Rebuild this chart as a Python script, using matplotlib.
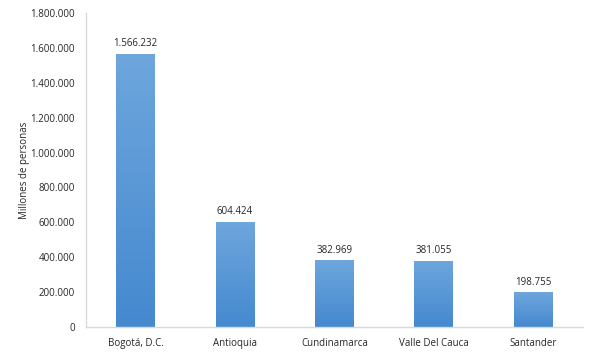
import matplotlib
matplotlib.use("Agg")
import matplotlib.pyplot as plt
import numpy as np
from matplotlib.colors import LinearSegmentedColormap

departamentos = ["Bogotá, D.C.", "Antioquia", "Cundinamarca", "Valle Del Cauca", "Santander"]
personas = [1566232, 604424, 382969, 381055, 198755]
yticks = [0, 200000, 400000, 600000, 800000, 1000000, 1200000, 1400000, 1600000, 1800000]


def fmt(v):
    return "{:,}".format(int(v)).replace(",", ".")


plt.rcParams["font.family"] = ["Open Sans", "DejaVu Sans"]

fig = plt.figure(figsize=(5.95, 3.56), dpi=100)
ax = fig.add_axes([0.1445, 0.0815, 0.835, 0.882])

x = np.arange(len(departamentos))
bars = ax.bar(x, personas, width=0.39, color="none", edgecolor="none", zorder=2)

cmap = LinearSegmentedColormap.from_list("g", ["#4589cf", "#6ea6dd"])
grad = np.linspace(0, 1, 256).reshape(-1, 1)
for b in bars:
    x0, w, h = b.get_x(), b.get_width(), b.get_height()
    im = ax.imshow(grad, cmap=cmap, aspect="auto", origin="lower",
                   extent=[x0, x0 + w, 0, h], zorder=2)
    im.set_clip_path(b)
    ax.text(x0 + w / 2, h + 25000, fmt(h), ha="center", va="bottom",
            fontsize=7, color="#262626")

ax.set_xlim(-0.5, len(departamentos) - 0.5)
ax.set_ylim(0, 1800000)
ax.set_yticks(yticks)
ax.set_yticklabels([fmt(v) for v in yticks], fontsize=7, color="#262626")
ax.set_xticks(x)
ax.set_xticklabels(departamentos, fontsize=7, color="#262626")
ax.tick_params(length=0, pad=8)
ax.set_ylabel("Millones de personas", fontsize=7, color="#262626", labelpad=0)

for s in ["top", "right"]:
    ax.spines[s].set_visible(False)
for s in ["left", "bottom"]:
    ax.spines[s].set_color("#d9d9d9")
    ax.spines[s].set_linewidth(1)

fig.savefig("out.png", dpi=100)
